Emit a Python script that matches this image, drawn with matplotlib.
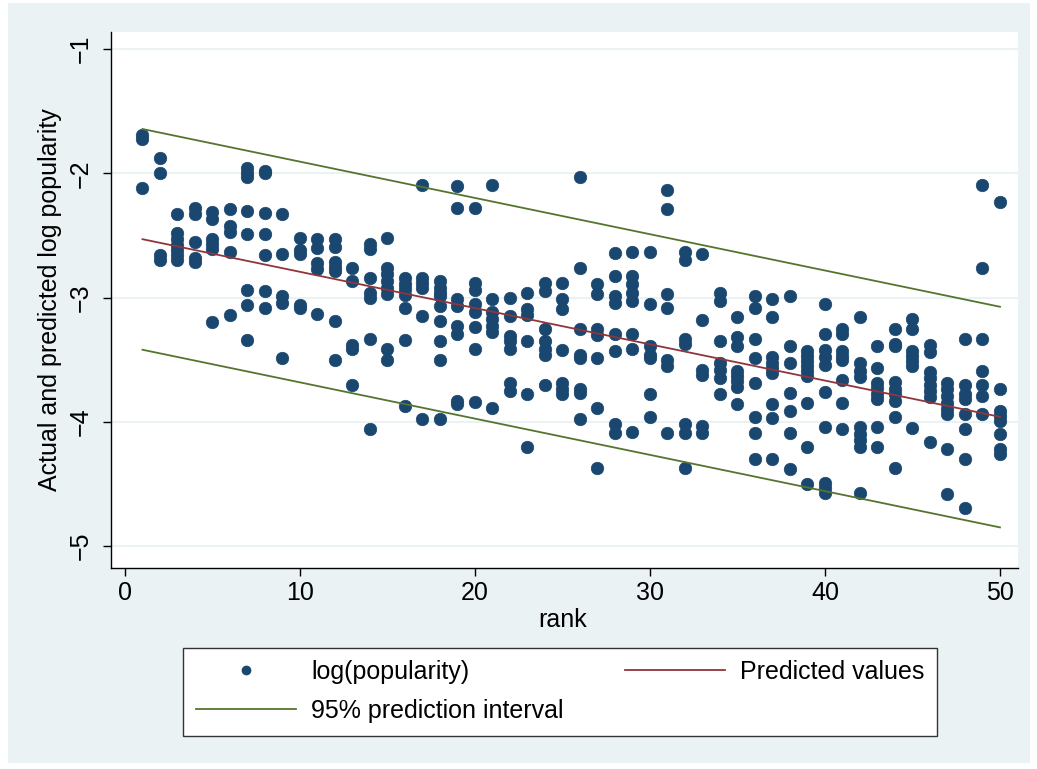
import numpy as np
import matplotlib.pyplot as plt
from matplotlib.lines import Line2D
from matplotlib.patches import Rectangle

plt.rcParams['font.family'] = ['Liberation Sans', 'DejaVu Sans']

# observed log popularity, one list per rank 1..50
pop_by_rank = [
    [-1.69, -1.72, -2.12],
    [-1.88, -2.00, -2.66, -2.70],
    [-2.33, -2.48, -2.53, -2.58, -2.62, -2.66, -2.70],
    [-2.28, -2.33, -2.55, -2.68, -2.71],
    [-2.31, -2.37, -2.53, -2.57, -2.61, -3.20],
    [-2.29, -2.42, -2.47, -2.63, -3.14],
    [-1.96, -2.00, -2.03, -2.30, -2.49, -2.94, -3.06, -3.34],
    [-1.98, -2.00, -2.32, -2.49, -2.66, -2.95, -3.08],
    [-2.33, -2.65, -2.99, -3.04, -3.49],
    [-2.52, -2.62, -2.65, -3.06, -3.08],
    [-2.53, -2.60, -2.72, -2.77, -3.13],
    [-2.53, -2.59, -2.71, -2.75, -2.79, -3.19, -3.50],
    [-2.76, -2.87, -3.38, -3.41, -3.70],
    [-2.57, -2.61, -2.84, -2.96, -3.00, -3.33, -4.06],
    [-2.52, -2.76, -2.81, -2.87, -2.92, -2.97, -3.41, -3.50],
    [-2.84, -2.89, -2.93, -2.98, -3.08, -3.34, -3.87],
    [-2.09, -2.84, -2.88, -2.92, -3.15, -3.98],
    [-2.87, -2.92, -2.96, -2.99, -3.07, -3.19, -3.35, -3.50, -3.98],
    [-2.10, -2.28, -3.01, -3.07, -3.23, -3.29, -3.83, -3.86],
    [-2.28, -2.88, -2.94, -3.05, -3.12, -3.24, -3.41, -3.84],
    [-2.09, -3.01, -3.12, -3.17, -3.23, -3.28, -3.89],
    [-3.00, -3.15, -3.31, -3.35, -3.41, -3.69, -3.75],
    [-2.96, -3.09, -3.14, -3.35, -3.78, -4.20],
    [-2.88, -2.95, -3.25, -3.35, -3.41, -3.46, -3.70],
    [-2.88, -3.01, -3.09, -3.42, -3.69, -3.74, -3.78],
    [-2.03, -2.76, -3.25, -3.46, -3.49, -3.74, -3.77, -3.98],
    [-2.89, -2.97, -3.25, -3.30, -3.49, -3.89, -4.37],
    [-2.64, -2.83, -2.99, -3.04, -3.29, -3.43, -4.02, -4.09],
    [-2.63, -2.83, -2.89, -2.96, -3.03, -3.29, -3.41, -4.08],
    [-2.63, -3.05, -3.39, -3.46, -3.49, -3.78, -3.96],
    [-2.13, -2.29, -2.97, -3.08, -3.50, -3.55, -4.09],
    [-2.63, -2.70, -3.33, -3.37, -4.02, -4.09, -4.37],
    [-2.65, -3.18, -3.58, -3.62, -4.03, -4.09],
    [-2.96, -3.03, -3.35, -3.53, -3.58, -3.65, -3.78],
    [-3.16, -3.32, -3.39, -3.59, -3.63, -3.67, -3.72, -3.86],
    [-2.99, -3.08, -3.33, -3.49, -3.69, -3.96, -4.09, -4.30],
    [-3.01, -3.16, -3.48, -3.53, -3.57, -3.61, -3.86, -3.97, -4.30],
    [-2.99, -3.39, -3.53, -3.77, -3.91, -4.09, -4.38],
    [-3.43, -3.47, -3.51, -3.55, -3.59, -3.63, -3.85, -4.20, -4.50],
    [-3.05, -3.29, -3.42, -3.48, -3.54, -3.76, -4.04, -4.49, -4.53, -4.57],
    [-3.25, -3.29, -3.43, -3.47, -3.50, -3.66, -3.85, -4.06],
    [-3.16, -3.53, -3.59, -3.64, -4.04, -4.10, -4.15, -4.20, -4.57],
    [-3.39, -3.57, -3.69, -3.73, -3.78, -3.82, -4.04, -4.20],
    [-3.25, -3.37, -3.39, -3.68, -3.74, -3.78, -3.83, -3.96, -4.37],
    [-3.17, -3.25, -3.43, -3.47, -3.51, -3.55, -4.05],
    [-3.38, -3.44, -3.60, -3.65, -3.70, -3.75, -3.80, -4.16],
    [-3.69, -3.74, -3.79, -3.85, -3.90, -3.94, -4.22, -4.58],
    [-3.33, -3.70, -3.78, -3.82, -3.94, -4.06, -4.30, -4.69],
    [-2.09, -2.76, -3.33, -3.59, -3.70, -3.79, -3.94],
    [-2.23, -3.74, -3.91, -3.95, -3.99, -4.10, -4.22, -4.26],
]

# fitted line and prediction band at the end ranks
fit_rank = [1, 50]
predicted = [-2.53, -3.96]
pi_upper = [-1.643, -3.074]
pi_lower = [-3.42, -4.85]

x_ticks = [0, 10, 20, 30, 40, 50]
y_ticks = [-5, -4, -3, -2, -1]

NAVY = '#1a476f'
MAROON = '#90353b'
GREEN = '#55752f'
BG = '#eaf2f3'

rank = np.concatenate([[r + 1] * len(v) for r, v in enumerate(pop_by_rank)])
log_pop = np.concatenate(pop_by_rank)

fig = plt.figure(figsize=(10.37, 7.69), dpi=100, facecolor='white')
fig.patches.append(Rectangle((8 / 1037, 1 - 763 / 769), 1022 / 1037, 760 / 769,
                             transform=fig.transFigure, facecolor=BG,
                             edgecolor='none', zorder=-10))

ax = fig.add_axes([111 / 1037, 1 - 568 / 769, 907 / 1037, 536 / 769])
ax.set_zorder(1)
ax.set_facecolor('white')

ax.plot(rank, log_pop, 'o', color=NAVY, ms=9, mec=NAVY, mew=0.5, zorder=3)
ax.plot(fit_rank, predicted, color=MAROON, lw=1.3, zorder=4)
ax.plot(fit_rank, pi_upper, color=GREEN, lw=1.3, zorder=4)
ax.plot(fit_rank, pi_lower, color=GREEN, lw=1.3, zorder=4)

ax.set_xlim(-0.8, 51.03)
ax.set_ylim(-5.177, -0.862)
ax.set_xticks(x_ticks)
ax.set_yticks(y_ticks)
ax.set_yticklabels([f'\u2212{abs(v)}' for v in y_ticks], rotation=90, va='center')
ax.tick_params(axis='both', direction='out', length=6, width=1, labelsize=18,
               color='black')
ax.tick_params(axis='x', pad=3)
ax.tick_params(axis='y', pad=7)
ax.grid(axis='y', color=BG, lw=1.5, zorder=0)
ax.set_axisbelow(True)
for side in ['top', 'right']:
    ax.spines[side].set_visible(False)
for side in ['left', 'bottom']:
    ax.spines[side].set_linewidth(1)

fig.text(50 / 1037, 1 - 300 / 769, 'Actual and predicted log popularity',
         rotation=90, ha='center', va='center', fontsize=18)
fig.text(563 / 1037, 1 - 620 / 769, 'rank', ha='center', va='center', fontsize=18)

handles = [
    Line2D([], [], ls='none', marker='o', color=NAVY, ms=6),
    Line2D([], [], color=GREEN, lw=1.3),
    Line2D([], [], color=MAROON, lw=1.3),
]
labels = ['log(popularity)', '95% prediction interval', 'Predicted values']
leg = fig.legend(handles, labels, ncol=2, loc='center',
                 bbox_to_anchor=(560 / 1037, 1 - 691.5 / 769),
                 fontsize=18, frameon=True, fancybox=False, shadow=False,
                 framealpha=1, handlelength=4, handletextpad=0.6,
                 columnspacing=2.45, labelspacing=0.6, borderpad=0.5)
leg.get_frame().set_edgecolor('#333333')
leg.get_frame().set_linewidth(1)
leg.get_frame().set_facecolor('white')

fig.savefig('out.png', dpi=100, facecolor=fig.get_facecolor())
